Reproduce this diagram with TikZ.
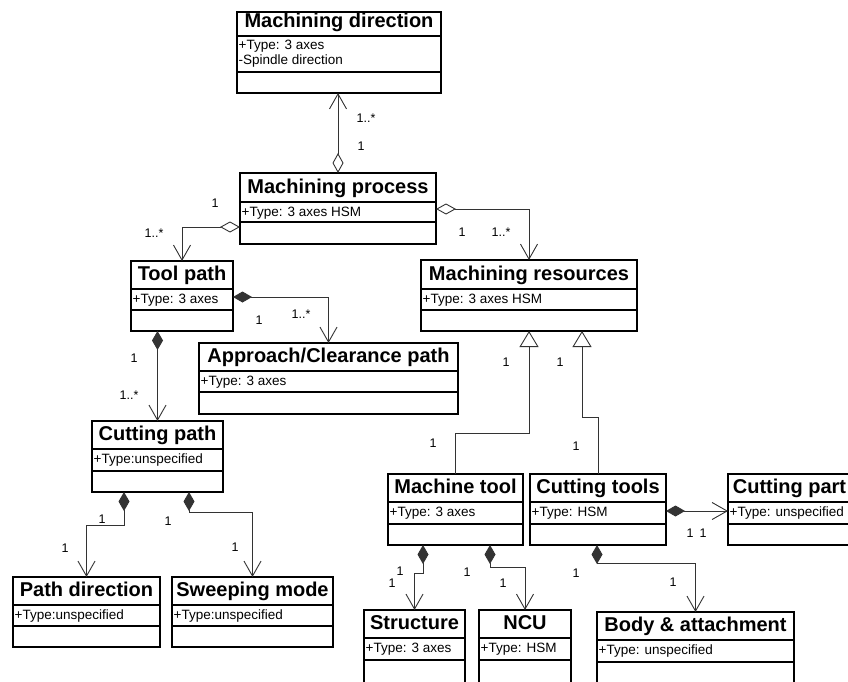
\documentclass[tikz,border=0pt]{standalone}
\usepackage{fontspec}
\setmainfont{Liberation Sans}
\usetikzlibrary{arrows.meta}
\tikzset{
  boxframe/.style={draw=black, line width=1.1pt, inner sep=0pt, outer sep=0pt, rectangle},
  sepline/.style={draw=black, line width=1.1pt},
  titletext/.style={font=\fontsize{20}{22}\selectfont\bfseries, inner sep=0pt},
  attrtext/.style={font=\fontsize{13.5}{15}\selectfont, inner sep=0pt},
  mult/.style={font=\fontsize{12.5}{14}\selectfont, inner sep=0pt},
  conn/.style={draw=black!80, line width=0.9pt},
  aggr/.style={conn, {Diamond[open,length=20pt,width=11pt]}-{Straight Barb[length=15pt,width=17pt]}},
  compo/.style={conn, {Diamond[length=19pt,width=11pt]}-{Straight Barb[length=15pt,width=17pt]}},
  genl/.style={conn, -{Triangle[open,length=16pt,width=19pt]}}
}
\newcommand\umlbox[9]{%
  \node[boxframe, anchor=north west, minimum width={(#4-#2)*1pt}, minimum height={(#7-#3)*1pt}] (#1) at (#2,#3) {};
  \draw[sepline] (#2,#5) -- (#4,#5) (#2,#6) -- (#4,#6);
  \node[titletext, anchor=base] (#1-t) at ({(#2+#4)/2},#5-8.5) {#8};
  \node[attrtext, anchor=base west] (#1-a) at (#2+1.5,#5+14) {#9};
}
\newcommand\mlab[4]{\node[mult, anchor=base] (#1) at (#2,#3+4.5) {#4};}
\begin{document}
\begin{tikzpicture}[x=1pt,y=-1pt]
\useasboundingbox (0,0) rectangle (848,682);
\fill[white] (0,0) rectangle (848,682);
\clip (0,0) rectangle (848,682);

% classes
\umlbox{md}{237}{12}{441}{36}{72}{93}{Machining direction}{+Type: 3 axes}
\node[attrtext, anchor=base west] (md-b) at (238.5,65) {-Spindle direction};
\umlbox{mp}{240}{173}{436}{202}{222}{244}{Machining process}{+Type: 3 axes HSM}
\umlbox{tp}{131}{261}{233}{289}{310}{331}{Tool path}{+Type: 3 axes}
\umlbox{mr}{421}{260}{637}{289}{310}{331}{Machining resources}{+Type: 3 axes HSM}
\umlbox{ap}{199}{343}{458}{371}{392}{414}{Approach/Clearance path}{+Type: 3 axes}
\umlbox{cp}{92}{421}{223}{449}{471}{492}{Cutting path}{+Type:unspecified}
\umlbox{mt}{388}{474}{523}{502}{524}{545}{Machine tool}{+Type: 3 axes}
\umlbox{ct}{530}{474}{666}{502}{524}{545}{Cutting tools}{+Type: HSM}
\umlbox{cpt}{728}{474}{851}{502}{524}{545}{Cutting part}{+Type: unspecified}
\umlbox{pd}{13}{577}{160}{605}{626}{647}{Path direction}{+Type:unspecified}
\umlbox{sm}{172}{577}{333}{605}{626}{647}{Sweeping mode}{+Type:unspecified}
\umlbox{st}{364}{610}{465}{638}{660}{686}{Structure}{+Type: 3 axes}
\umlbox{ncu}{479}{610}{571}{638}{660}{686}{NCU}{+Type: HSM}
\umlbox{body}{597}{612}{794}{640}{662}{686}{Body \& attachment}{+Type: unspecified}

% connectors
\draw[aggr] (mp.north) -- (mp.north |- md.south);
\draw[aggr] (mp.west |- 0,227) -| (tp.north);
\draw[aggr] (mp.east |- 0,209) -| (mr.north);
\draw[compo] (tp.east |- 0,297) -| (ap.north);
\draw[compo] (tp.south -| cp.north) -- (cp.north);
\draw[genl] (mt.north) -- (mt.north |- 0,433) -| (mr.south);
\draw[genl] (ct.north) -- (ct.north |- 0,417) -| ([xshift=53pt]mr.south);
\draw[compo] (ct.east |- 0,511) -- (cpt.west |- 0,511);
\draw[compo] (cp.south -| 124,0) -- (124,525) -| (pd.north);
\draw[compo] (cp.south -| 189,0) -- (189,512) -| (sm.north);
\draw[compo] (mt.south -| 423,0) -- (423,573) -| (st.north);
\draw[compo] (mt.south -| 490,0) -- (490,567) -| (ncu.north);
\draw[compo] (ct.south -| 597,0) -- (597,563) -| (body.north);

% multiplicities
\mlab{l1}{366}{118}{1..*}
\mlab{l2}{361}{146}{1}
\mlab{l3}{215}{203}{1}
\mlab{l4}{154}{233}{1..*}
\mlab{l5}{462}{232}{1}
\mlab{l6}{501}{232}{1..*}
\mlab{l7}{259}{320}{1}
\mlab{l8}{301}{314}{1..*}
\mlab{l9}{134}{358}{1}
\mlab{l10}{129}{395}{1..*}
\mlab{l11}{506}{362}{1}
\mlab{l12}{560}{362}{1}
\mlab{l13}{433}{443}{1}
\mlab{l14}{576}{446}{1}
\mlab{l15}{690}{533}{1}
\mlab{l16}{703}{533}{1}
\mlab{l17}{102}{519}{1}
\mlab{l18}{168}{521}{1}
\mlab{l19}{65}{548}{1}
\mlab{l20}{235}{547}{1}
\mlab{l21}{400}{571}{1}
\mlab{l22}{392}{583}{1}
\mlab{l23}{467}{572}{1}
\mlab{l24}{503}{583}{1}
\mlab{l25}{576}{573}{1}
\mlab{l26}{673}{582}{1}
\end{tikzpicture}
\end{document}
